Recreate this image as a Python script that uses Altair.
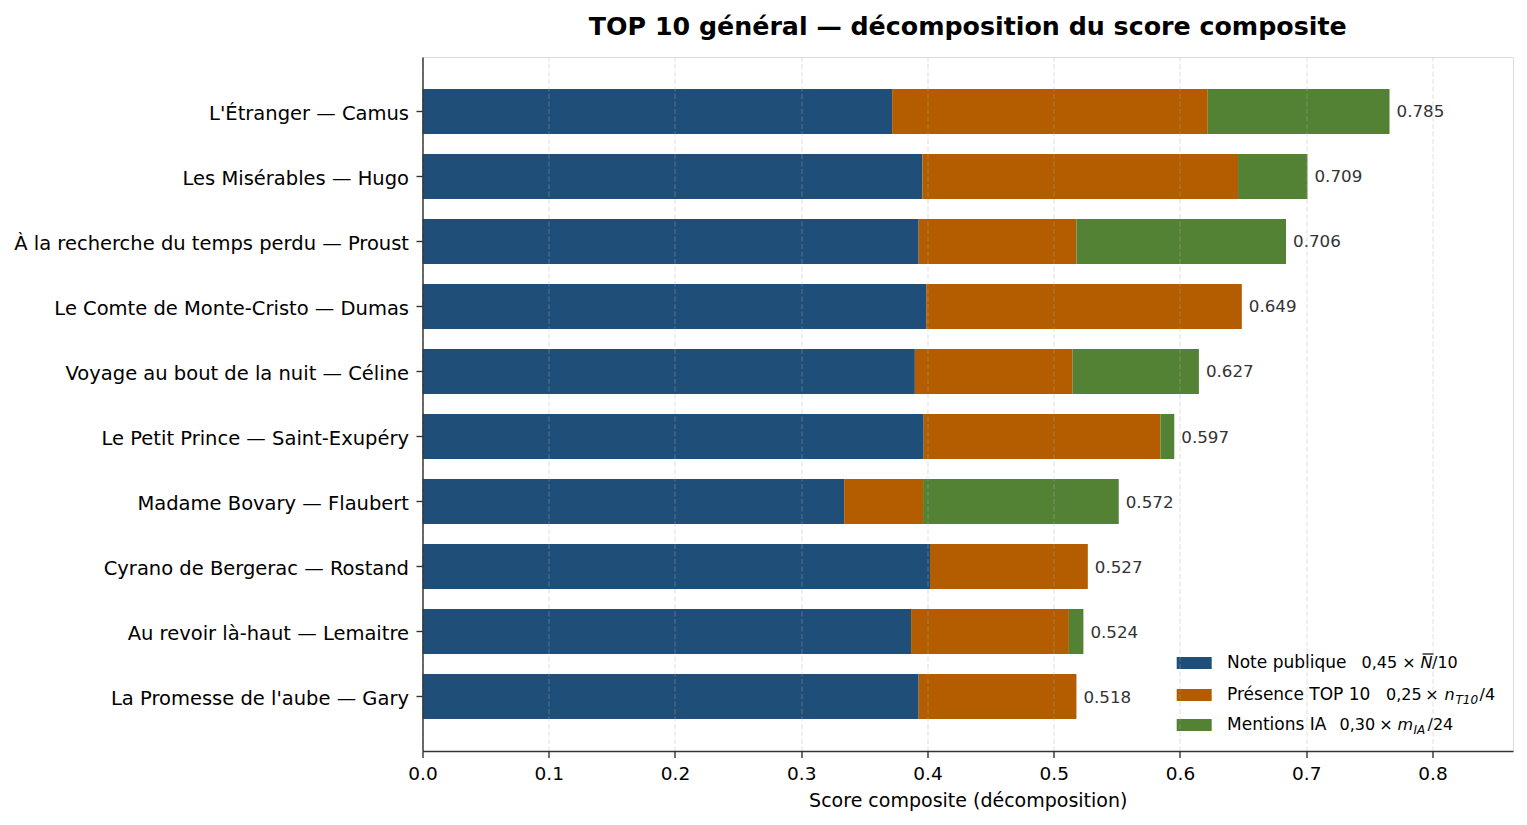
import altair as alt
import pandas as pd

# Book list (top to bottom) and the three components of the composite score
books = [
    "L'Étranger — Camus",
    "Les Misérables — Hugo",
    "À la recherche du temps perdu — Proust",
    "Le Comte de Monte-Cristo — Dumas",
    "Voyage au bout de la nuit — Céline",
    "Le Petit Prince — Saint-Exupéry",
    "Madame Bovary — Flaubert",
    "Cyrano de Bergerac — Rostand",
    "Au revoir là-haut — Lemaitre",
    "La Promesse de l'aube — Gary",
]
note_publique = [0.372, 0.396, 0.393, 0.399, 0.390, 0.397, 0.334, 0.402, 0.387, 0.393]
presence_top10 = [0.250, 0.250, 0.125, 0.250, 0.125, 0.1875, 0.0625, 0.125, 0.125, 0.125]
mentions_ia = [0.144, 0.055, 0.166, 0.0, 0.100, 0.011, 0.155, 0.0, 0.0115, 0.0]
scores = [0.785, 0.709, 0.706, 0.649, 0.627, 0.597, 0.572, 0.527, 0.524, 0.518]

components = ["Note publique", "Présence TOP 10", "Mentions IA"]
colors = ["#1f4e79", "#b35c00", "#548235"]

FONT = "DejaVu Sans"

rows = []
for i, b in enumerate(books):
    for k, (comp, vals) in enumerate(zip(components, [note_publique, presence_top10, mentions_ia])):
        if vals[i] > 0:
            rows.append({"book": b, "component": comp, "order": k, "value": vals[i]})
seg = pd.DataFrame(rows)

totals = pd.DataFrame({
    "book": books,
    "end": [a + b + c for a, b, c in zip(note_publique, presence_top10, mentions_ia)],
    "score": [f"{s:.3f}" for s in scores],
})

y_enc = alt.Y(
    "book:N", sort=books,
    scale=alt.Scale(paddingInner=0.3, paddingOuter=0.488),
    axis=alt.Axis(title=None, labelFontSize=19.5, labelColor="black", labelFont=FONT,
                  tickSize=6.5, tickWidth=1.4, tickColor="#333", domainColor="#333",
                  domainWidth=1.4, labelPadding=7.5, labelOffset=2.5, grid=False, zindex=1,
                  labelLimit=600),
)

x_scale = alt.Scale(domain=[0, 0.8638], nice=False, zero=True)

bars = alt.Chart(seg).mark_bar(size=45).encode(
    x=alt.X(
        "value:Q", stack="zero", scale=x_scale,
        axis=alt.Axis(
            title="Score composite (décomposition)",
            values=[0, 0.1, 0.2, 0.3, 0.4, 0.5, 0.6, 0.7, 0.8], format=".1f",
            labelFontSize=18.5, labelColor="black", labelFont=FONT, labelPadding=6.5,
            labelFlush=False,
            tickSize=6.5, tickWidth=1.4, tickColor="#333",
            domainColor="#333", domainWidth=1.4,
            grid=True, gridColor="#b0b0b0", gridOpacity=0.3, gridDash=[5, 2.5], gridWidth=1.3,
            titleFontSize=19, titleFontWeight="normal", titleColor="black", titleFont=FONT,
            titlePadding=8.5, zindex=1,
        ),
    ),
    y=y_enc,
    color=alt.Color("component:N", scale=alt.Scale(domain=components, range=colors), legend=None),
    order=alt.Order("order:Q"),
)

labels = alt.Chart(totals).mark_text(
    align="left", baseline="middle", dx=7, dy=1, fontSize=16.7, font=FONT, color="#333"
).encode(
    x=alt.X("end:Q", scale=x_scale),
    y=alt.Y("book:N", sort=books),
    text="score:N",
)

# Hand-drawn legend in the lower right corner (pixel positions inside the plot area)
one = alt.Data(values=[{"k": 0}])
legend_rows_y = [606, 638, 668]
legend_layers = []
for ry, col in zip(legend_rows_y, colors):
    legend_layers.append(
        alt.Chart(one).mark_rect(color=col).encode(
            x=alt.value(754.2), x2=alt.value(789.2), y=alt.value(ry - 6), y2=alt.value(ry + 6)
        )
    )

r1, r2, r3 = legend_rows_y
# (text, x, y, italic, size, align, dy)
legend_pieces = [
    ("Note publique", 804.5, r1, False, 17, "left", 0),
    ("0,45", 939.0, r1, False, 16, "left", 0),
    ("×", 986.5, r1, False, 16, "center", 0),
    ("N", 998.0, r1, True, 16, "left", 0),
    ("/10", 1009.5, r1, False, 16, "left", 0),
    ("Présence TOP 10", 804.5, r2, False, 17, "left", 0),
    ("0,25", 963.5, r2, False, 16, "left", 0),
    ("×", 1009.5, r2, False, 16, "center", 0),
    ("n", 1022.0, r2, True, 16, "left", 0),
    ("T10", 1033.0, r2, True, 12, "left", 4.5),
    ("/4", 1057.0, r2, False, 16, "left", 0),
    ("Mentions IA", 804.5, r3, False, 17, "left", 0),
    ("0,30", 917.0, r3, False, 16, "left", 0),
    ("×", 963.5, r3, False, 16, "center", 0),
    ("m", 975.0, r3, True, 16, "left", 0),
    ("IA", 991.0, r3, True, 12, "left", 4.5),
    ("/24", 1005.0, r3, False, 16, "left", 0),
]
for text, px, py, italic, size, align, dy in legend_pieces:
    legend_layers.append(
        alt.Chart(one).mark_text(
            align=align, baseline="middle", fontSize=size, font=FONT,
            fontStyle="italic" if italic else "normal", color="black", dy=dy,
        ).encode(x=alt.value(px), y=alt.value(py), text=alt.value(text))
    )

# overline on N (mean rating)
legend_layers.append(
    alt.Chart(one).mark_rule(color="black", strokeWidth=1.2).encode(
        x=alt.value(1000.0), x2=alt.value(1011.0), y=alt.value(r1 - 9), y2=alt.value(r1 - 9)
    )
)

chart = alt.layer(bars, labels, *legend_layers).properties(
    width=1090.5,
    height=694,
    title=alt.TitleParams(
        "TOP 10 général — décomposition du score composite",
        fontSize=25.3, font=FONT, fontWeight="bold", color="black",
        anchor="middle", baseline="alphabetic", offset=-3.5,
    ),
    autosize=alt.AutoSizeParams(type="none"),
    padding={"left": 422.5, "top": 57, "right": 14, "bottom": 74},
).configure_view(strokeWidth=0, stroke="transparent").configure(background="white")

chart.save("out.html", embed_options={"renderer": "svg", "actions": False})
